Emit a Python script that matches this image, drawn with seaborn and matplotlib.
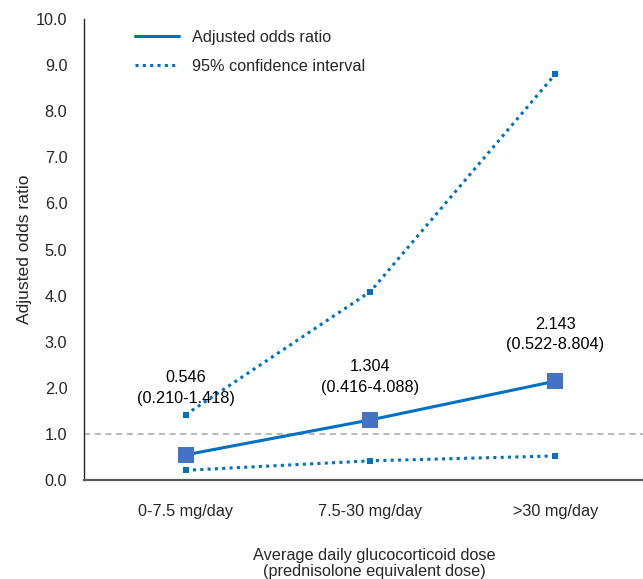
import matplotlib
matplotlib.use("Agg")
import matplotlib.pyplot as plt
import seaborn as sns
import pandas as pd
from matplotlib.lines import Line2D

categories = ["0-7.5 mg/day", "7.5-30 mg/day", ">30 mg/day"]
odds_ratio = [0.546, 1.304, 2.143]
ci_lower = [0.210, 0.416, 0.522]
ci_upper = [1.418, 4.088, 8.804]
y_ticks = [0.0, 1.0, 2.0, 3.0, 4.0, 5.0, 6.0, 7.0, 8.0, 9.0, 10.0]
label_offsets = [1.45, 0.93, 1.02]

sns.set_style("white")
plt.rcParams["font.family"] = ["Liberation Sans", "DejaVu Sans"]
FS = 11.7

fig = plt.figure(figsize=(6.43, 5.79), dpi=100)
ax = fig.add_axes([0.1306, 0.171, 0.8694, 0.796])

x = list(range(len(categories)))
df = pd.DataFrame({"x": x, "or": odds_ratio, "lo": ci_lower, "hi": ci_upper})

ax.axhline(1.0, color="#A6A6A6", lw=1.1, ls=(0, (4, 3)), zorder=1)

dot = (0, (1, 1.4))
for col in ["hi", "lo"]:
    sns.lineplot(data=df, x="x", y=col, ax=ax, color="#0070C0", lw=2.2,
                 linestyle=dot, marker="s", markersize=5,
                 markeredgewidth=0, markerfacecolor="#0070C0")
sns.lineplot(data=df, x="x", y="or", ax=ax, color="#0070C0", lw=2.2,
             marker="s", markersize=11, markeredgewidth=0,
             markerfacecolor="#4472C4")

for xi, o, l, h, off in zip(x, odds_ratio, ci_lower, ci_upper, label_offsets):
    ax.text(xi, o + off, f"{o:.3f}\n({l:.3f}-{h:.3f})", ha="center",
            va="center", fontsize=FS, linespacing=1.45, color="#000000")

handles = [Line2D([0], [0], color="#0070C0", lw=2.2),
           Line2D([0], [0], color="#0070C0", lw=2.2, linestyle=dot)]
ax.legend(handles, ["Adjusted odds ratio", "95% confidence interval"],
          loc="upper left", bbox_to_anchor=(0.065, 1.008), frameon=False,
          fontsize=FS, handlelength=2.7, labelspacing=0.85)

ax.set_xlim(-0.55, 2.475)
ax.set_ylim(0, 10)
ax.set_xticks(x)
ax.set_xticklabels(categories, fontsize=FS)
ax.set_yticks(y_ticks)
ax.set_yticklabels([f"{v:.1f}" for v in y_ticks], fontsize=FS)
ax.tick_params(axis="x", length=0, pad=17)
ax.tick_params(axis="y", length=0, pad=12)
ax.set_xlabel("Average daily glucocorticoid dose\n(prednisolone equivalent dose)",
              fontsize=FS, labelpad=21, linespacing=1.1, x=0.519)
ax.set_ylabel("Adjusted odds ratio", fontsize=12.6, labelpad=3)

for s in ["top", "right"]:
    ax.spines[s].set_visible(False)
ax.spines["left"].set_color("#262626")
ax.spines["bottom"].set_color("#595959")
ax.spines["left"].set_linewidth(1.0)
ax.spines["bottom"].set_linewidth(1.6)

fig.savefig("out.png", dpi=100)
